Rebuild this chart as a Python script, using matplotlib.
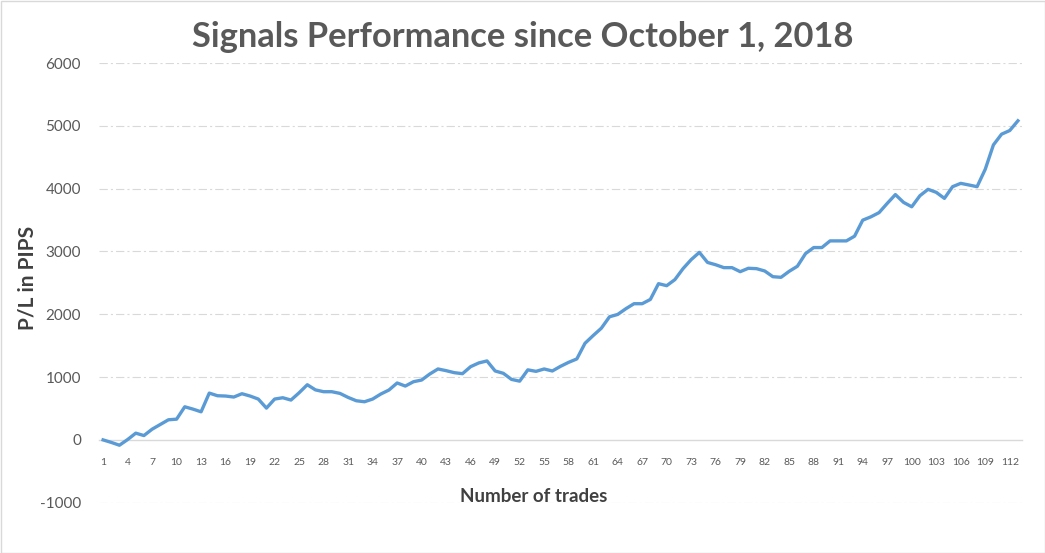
import matplotlib
matplotlib.use("Agg")
import matplotlib.pyplot as plt
from matplotlib.patches import Rectangle

# -----------------------------
# Data
# -----------------------------
pips = [
    0, -40, -85, 5, 107, 69, 170, 245, 320, 330,
    527, 490, 447, 745, 703, 698, 682, 735, 698, 650,
    506, 650, 671, 634, 750, 878, 796, 767, 767, 740,
    676, 623, 607, 650, 730, 794, 906, 857, 926, 953,
    1049, 1129, 1102, 1070, 1054, 1166, 1225, 1257, 1097, 1060,
    963, 935, 1115, 1091, 1129, 1097, 1171, 1235, 1289, 1538,
    1661, 1778, 1960, 1997, 2088, 2168, 2168, 2236, 2487, 2455,
    2551, 2726, 2870, 2985, 2825, 2788, 2742, 2742, 2678, 2732,
    2726, 2689, 2598, 2588, 2684, 2764, 2966, 3062, 3062, 3168,
    3168, 3168, 3243, 3498, 3551, 3618, 3765, 3905, 3781, 3711,
    3887, 3989, 3941, 3845, 4031, 4084, 4058, 4031, 4308, 4696,
    4867, 4925, 5080,
]
trades = list(range(1, len(pips) + 1))
x_ticks = trades[::3]
y_ticks = [-1000, 0, 1000, 2000, 3000, 4000, 5000, 6000]

plt.rcParams["font.family"] = ["Lato", "DejaVu Sans"]
plt.rcParams["lines.scale_dashes"] = False
plt.rcParams["axes.unicode_minus"] = False

grey_text = "#595959"

fig = plt.figure(figsize=(10.45, 5.53), dpi=100)
ax = fig.add_axes([99 / 1045, 1 - 502.7 / 553, (1022 - 99) / 1045, (502.7 - 63) / 553])

# gridlines (long dash dot, Excel style)
for v in y_ticks:
    if v == 0:
        continue
    ax.axhline(v, color="#D9D9D9", linewidth=0.8, dashes=(6, 2.2, 1.5, 2.2), zorder=1)

ax.plot(trades, pips, color="#5B9BD5", linewidth=2.4, solid_joinstyle="round", zorder=3)

ax.set_xlim(0.5, len(pips) + 0.5)
ax.set_ylim(-1000, 6000)
ax.set_yticks(y_ticks)
ax.set_xticks(x_ticks)
ax.set_xticklabels([str(t) for t in x_ticks])

for s in ["top", "right", "left"]:
    ax.spines[s].set_visible(False)
ax.spines["bottom"].set_position(("data", 0))
ax.spines["bottom"].set_color("#D9D9D9")
ax.spines["bottom"].set_linewidth(1.0)

ax.tick_params(axis="y", length=0, pad=13, labelsize=11, labelcolor=grey_text)
ax.tick_params(axis="x", length=0, pad=13, labelsize=7.5, labelcolor=grey_text)

# titles
fig.text(0.5, 1 - 37 / 553, "Signals Performance since October 1, 2018",
         ha="center", va="center", fontsize=24.8, fontweight="bold", color=grey_text)
fig.text(27 / 1045, 1 - 278 / 553, "P/L in PIPS", rotation=90,
         ha="center", va="center", fontsize=15, fontweight="bold", color="#404040")
fig.text(534 / 1045, 1 - 497 / 553, "Number of trades",
         ha="center", va="center", fontsize=13.5, fontweight="bold", color="#404040")

# chart border
fig.patches.append(Rectangle((0.5 / 1045, 0.5 / 553), 1 - 1 / 1045, 1 - 1 / 553,
                             transform=fig.transFigure, fill=False,
                             edgecolor="#D9D9D9", linewidth=1))

fig.savefig("out.png", dpi=100)
